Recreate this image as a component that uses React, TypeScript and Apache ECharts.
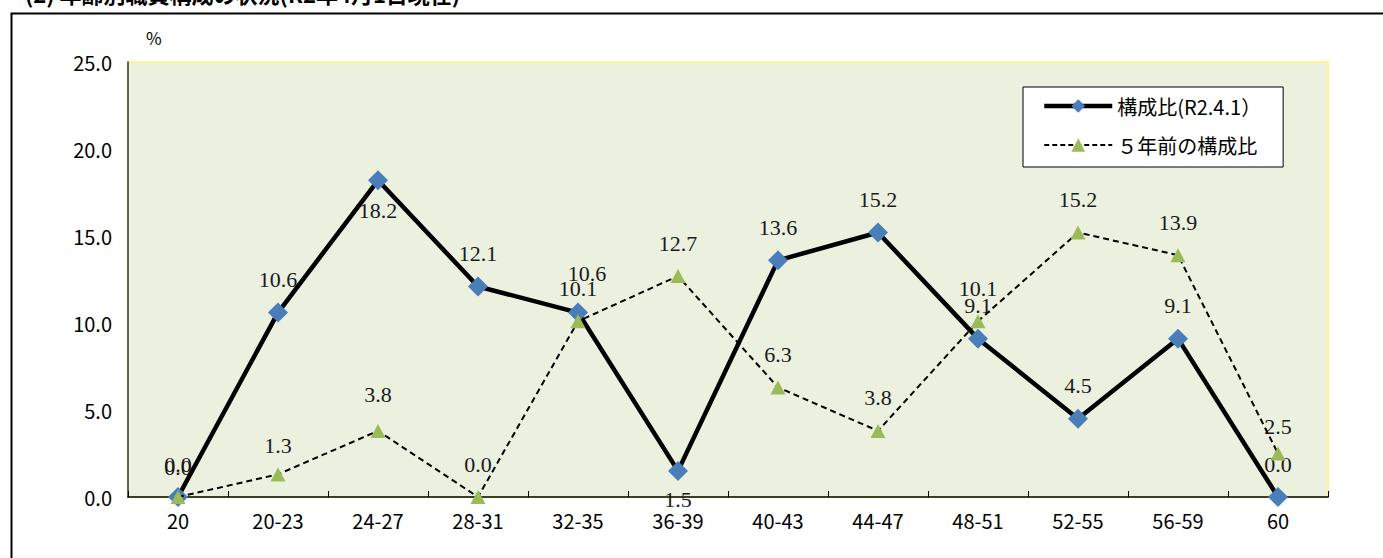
import React, { useEffect, useRef } from "react";
import * as echarts from "echarts";

const categories = ["20", "20-23", "24-27", "28-31", "32-35", "36-39", "40-43", "44-47", "48-51", "52-55", "56-59", "60"];
const currentRatio = [0.0, 10.6, 18.2, 12.1, 10.6, 1.5, 13.6, 15.2, 9.1, 4.5, 9.1, 0.0];
const ratio5YearsAgo = [0.0, 1.3, 3.8, 0.0, 10.1, 12.7, 6.3, 3.8, 10.1, 15.2, 13.9, 2.5];
const yTicks = [0, 5, 10, 15, 20, 25];
const seriesNames = ["構成比(R2.4.1）", "５年前の構成比"];
const titleText = "(2) 年齢別職員構成の状況(R2年4月1日現在)";

// label nudges (pixels from the point centre)
const labelNudge1: Record<number, [number, number]> = { 2: [0, 30], 4: [9, -39], 5: [0, 29] };
const labelNudge2: Record<number, [number, number]> = { 0: [0, -30], 1: [0, -29], 2: [0, -36], 11: [0, -27] };

const labelFont = "'Liberation Serif', 'DejaVu Serif', serif";
const sansFont = "'Noto Sans CJK JP', 'Noto Sans', sans-serif";

function buildData(values: number[], nudge: Record<number, [number, number]>) {
  return values.map((v, i) => ({
    value: v,
    label: { offset: nudge[i] || [0, -33] },
  }));
}

export default function App() {
  const ref = useRef<HTMLDivElement>(null);
  useEffect(() => {
    document.body.style.margin = "0";
    if (!ref.current) return;
    const chart = echarts.init(ref.current, undefined, { renderer: "svg" });
    const labelCommon = {
      show: true,
      position: "inside" as const,
      formatter: (p: any) => Number(p.value).toFixed(1),
      fontFamily: labelFont,
      fontSize: 22,
      color: "#1a1a1a",
    };
    chart.setOption({
      animation: false,
      backgroundColor: "#ffffff",
      grid: {
        left: 128,
        top: 62,
        width: 1200,
        height: 435,
        show: true,
        backgroundColor: "#EBF0DF",
        borderColor: "#FAF78C",
        borderWidth: 2,
      },
      graphic: [
        {
          type: "rect",
          left: 9,
          top: 11,
          shape: { x: 0, y: 0, width: 1500, height: 700 },
          style: { fill: "none", stroke: "#000", lineWidth: 2 },
          z: 10,
        },
        {
          type: "text",
          left: 25,
          top: -18,
          style: { text: titleText, fontFamily: sansFont, fontSize: 22, fontWeight: "bold", fill: "#000" },
        },
        {
          type: "text",
          left: 146,
          top: 29,
          style: { text: "%", fontFamily: sansFont, fontSize: 17, fill: "#000" },
        },
      ],
      legend: {
        left: 1023,
        top: 87,
        orient: "vertical",
        backgroundColor: "#ffffff",
        borderColor: "#000",
        borderWidth: 1,
        padding: [9, 22, 12, 19],
        itemWidth: 68,
        itemHeight: 17,
        itemGap: 19,
        textStyle: { fontFamily: sansFont, fontSize: 20, color: "#000", lineHeight: 20 },
        data: [
          { name: seriesNames[0], lineStyle: { width: 4.5, color: "#000" } },
          { name: seriesNames[1], lineStyle: { width: 2, color: "#000", type: [5, 3] } },
        ],
      },
      xAxis: {
        type: "category",
        data: categories,
        axisLine: { lineStyle: { color: "#000", width: 1.5 } },
        axisTick: { show: true, inside: true, length: 6, lineStyle: { color: "#000" } },
        axisLabel: { fontFamily: sansFont, fontSize: 20, color: "#000", margin: 13 },
        splitLine: { show: false },
      },
      yAxis: {
        type: "value",
        min: yTicks[0],
        max: yTicks[yTicks.length - 1],
        interval: yTicks[1] - yTicks[0],
        axisLine: { show: true, lineStyle: { color: "#333", width: 1.5 } },
        axisTick: { show: false },
        splitLine: { show: false },
        axisLabel: {
          fontFamily: sansFont,
          fontSize: 20,
          color: "#000",
          margin: 16,
          formatter: (v: number) => v.toFixed(1),
        },
      },
      series: [
        {
          name: seriesNames[0],
          type: "line",
          data: buildData(currentRatio, labelNudge1),
          symbol: "diamond",
          symbolSize: 20,
          lineStyle: { color: "#000", width: 4.5 },
          itemStyle: { color: "#4A7EBB" },
          label: labelCommon,
          z: 2,
        },
        {
          name: seriesNames[1],
          type: "line",
          data: buildData(ratio5YearsAgo, labelNudge2),
          symbol: "triangle",
          symbolSize: [15, 14],
          lineStyle: { color: "#000", width: 2, type: [6, 4] },
          itemStyle: { color: "#9BBB59" },
          label: labelCommon,
          z: 3,
        },
      ],
    });
    return () => chart.dispose();
  }, []);
  return <div ref={ref} style={{ width: 1383, height: 558 }} />;
}
